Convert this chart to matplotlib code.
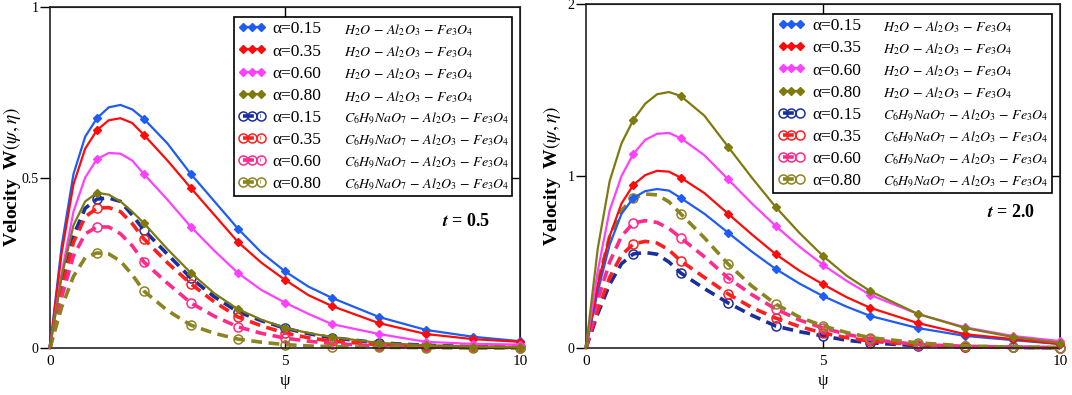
import numpy as np
import matplotlib
matplotlib.use('Agg')
import matplotlib.pyplot as plt
from matplotlib.patches import Rectangle

plt.rcParams['font.family'] = ['Liberation Serif', 'DejaVu Serif']
plt.rcParams['mathtext.fontset'] = 'stix'

psi = [0, 0.25, 0.5, 0.75, 1, 1.25, 1.5, 1.75, 2, 2.5, 3, 3.5, 4, 4.5, 5, 5.5, 6, 7, 8, 9, 10]

alphas = ['0.15', '0.35', '0.60', '0.80']
fluid_h2o = r'$H_2O\,-\,Al_2O_3\,-\,Fe_3O_4$'
fluid_c6 = r'$C_6H_9NaO_7\,-\,Al_2O_3\,-\,Fe_3O_4$'

# t = 0.5, H2O based
h2o_a015_t05 = [0, .30, .51, .62, .674, .706, .713, .70, .672, .60, .51, .43, .35, .28, .225, .18, .147, .091, .053, .033, .02]
h2o_a035_t05 = [0, .28, .48, .585, .639, .668, .674, .66, .625, .55, .469, .39, .311, .25, .2, .155, .123, .073, .041, .026, .018]
h2o_a060_t05 = [0, .22, .40, .50, .554, .572, .57, .55, .51, .435, .355, .285, .22, .17, .133, .10, .07, .041, .018, .012, .01]
h2o_a080_t05 = [0, .21, .36, .43, .455, .45, .43, .40, .366, .29, .22, .16, .114, .083, .059, .044, .032, .015, .008, .004, .002]
# t = 0.5, C6H9NaO7 based
c6_a015_t05 = [0, .19, .33, .41, .437, .44, .43, .39, .346, .275, .205, .15, .106, .08, .058, .042, .03, .015, .008, .004, .002]
c6_a035_t05 = [0, .17, .31, .385, .41, .412, .40, .365, .32, .25, .188, .135, .091, .065, .044, .03, .02, .01, .005, .003, .002]
c6_a060_t05 = [0, .15, .27, .335, .355, .355, .335, .30, .252, .19, .132, .093, .062, .043, .029, .02, .013, .006, .003, .002, .001]
c6_a080_t05 = [0, .12, .21, .265, .279, .276, .255, .215, .167, .11, .067, .043, .026, .017, .01, .006, .004, .002, .001, 0, 0]

# t = 2.0, H2O based
h2o_a015_t20 = [0, .33, .60, .78, .872, .912, .924, .915, .872, .78, .67, .56, .46, .375, .302, .24, .186, .116, .07, .046, .023]
h2o_a035_t20 = [0, .37, .65, .84, .948, 1.005, 1.03, 1.025, .99, .90, .78, .66, .546, .45, .37, .295, .233, .145, .08, .052, .023]
h2o_a060_t20 = [0, .45, .80, 1.0, 1.128, 1.21, 1.245, 1.25, 1.22, 1.12, .98, .84, .71, .59, .483, .39, .308, .198, .12, .07, .04]
h2o_a080_t20 = [0, .58, .97, 1.19, 1.326, 1.42, 1.475, 1.488, 1.465, 1.35, 1.169, .99, .82, .67, .535, .42, .33, .198, .116, .064, .029]
# t = 2.0, C6H9NaO7 based
c6_a015_t20 = [0, .20, .37, .49, .547, .555, .545, .50, .436, .345, .262, .19, .128, .095, .07, .045, .03, .013, .006, .003, .001]
c6_a035_t20 = [0, .22, .41, .54, .605, .62, .61, .57, .506, .41, .314, .235, .174, .125, .087, .06, .04, .018, .008, .004, .002]
c6_a060_t20 = [0, .28, .50, .65, .727, .74, .73, .695, .64, .53, .407, .31, .227, .163, .116, .08, .05, .02, .01, .005, .002]
c6_a080_t20 = [0, .38, .65, .80, .872, .895, .89, .85, .78, .64, .488, .36, .256, .18, .128, .09, .06, .03, .012, .005, .002]

solid_colors = ['#1f5cf5', '#ff0a0a', '#ff40ff', '#7f7a0e']
dash_colors = ['#1a2f9e', '#ff1f1f', '#ff2a8a', '#8c8420']

psi_arr = np.array(psi)
marks = [i for i, v in enumerate(psi) if v > 0 and v == int(v)]

fig = plt.figure(figsize=(10.72, 3.95), dpi=100)
ax1 = fig.add_axes([0.0466, 0.119, 0.4384, 0.863])
ax2 = fig.add_axes([0.5466, 0.119, 0.4422, 0.871])

panels = [
    (ax1, [h2o_a015_t05, h2o_a035_t05, h2o_a060_t05, h2o_a080_t05],
     [c6_a015_t05, c6_a035_t05, c6_a060_t05, c6_a080_t05], 1, [0, 0.5, 1], ['0', '0.5', '1'],
     (8.35, 0.37), '0.5', 0.391, -0.057),
    (ax2, [h2o_a015_t20, h2o_a035_t20, h2o_a060_t20, h2o_a080_t20],
     [c6_a015_t20, c6_a035_t20, c6_a060_t20, c6_a080_t20], 2, [0, 1, 2], ['0', '1', '2'],
     (8.45, 0.79), '2.0', 0.395, -0.049),
]

legends = []
for ax, solids, dashes, ymax, yt, ytl, tpos, tval, legx, labx in panels:
    handles = []
    labels = []
    formulas = []
    for i in range(4):
        h, = ax.plot(psi_arr, solids[i], color=solid_colors[i], lw=1.6, marker='D', ms=4.5,
                     markevery=marks, clip_on=False, zorder=3)
        handles.append(h)
        labels.append('α=' + alphas[i])
        formulas.append(fluid_h2o)
    for i in range(4):
        h, = ax.plot(psi_arr, dashes[i], color=dash_colors[i], lw=2.6, ls=(0, (3.0, 1.8)),
                     marker='o', ms=6.5, mfc='none', mew=1.1, markevery=marks, clip_on=False, zorder=2)
        handles.append(h)
        labels.append('α=' + alphas[i])
        formulas.append(fluid_c6)

    ax.set_xlim(0, 10)
    ax.set_ylim(0, ymax)
    ax.set_xticks([0, 5, 10])
    ax.set_xticklabels(['0', '5', '10'])
    ax.set_yticks(yt)
    ax.set_yticklabels(ytl)
    ax.tick_params(axis='y', direction='out', length=7, width=1, labelsize=10, pad=1)
    ax.tick_params(axis='x', direction='in', length=6, width=1, labelsize=11, pad=5)
    for s in ax.spines.values():
        s.set_linewidth(1.2)
        s.set_color('#222222')

    top = ax.secondary_xaxis('top')
    top.set_xticks([5])
    top.set_xticklabels([])
    top.tick_params(direction='in', length=7, width=1)
    right = ax.secondary_yaxis('right')
    right.set_yticks([yt[1]])
    right.set_yticklabels([])
    right.tick_params(direction='in', length=7, width=1)

    ax.set_xlabel('ψ', fontsize=12, labelpad=4)
    ax.set_ylabel('Velocity  W' + r'$(\psi, \eta)$', fontsize=14, fontweight='bold')
    ax.yaxis.set_label_coords(labx, 0.5)

    ax.text(tpos[0], tpos[1], r'$\mathbfit{t}$' + ' = ' + tval, fontsize=13, fontweight='bold',
            ha='left', va='center')

    leg = ax.legend(handles, labels, loc='upper left', bbox_to_anchor=(legx, 0.971),
                    fontsize=12.5, numpoints=3, handlelength=1.6, handletextpad=0.4,
                    labelspacing=0.34, borderpad=0.25, frameon=False, borderaxespad=0)
    leg.set_zorder(6)
    legends.append((ax, leg, formulas))

# formulas go to the right of the alpha labels, then one frame round both
fig.canvas.draw()
renderer = fig.canvas.get_renderer()
inv = fig.transFigure.inverted()
for ax, leg, formulas in legends:
    texts = []
    for t, f in zip(leg.get_texts(), formulas):
        bb = t.get_window_extent(renderer)
        x, y = inv.transform((bb.x1 + 22, (bb.y0 + bb.y1) / 2 - 1))
        texts.append(ax.text(x, y, f, fontsize=10, ha='left', va='center', zorder=7,
                             transform=fig.transFigure, clip_on=False))
    fig.canvas.draw()
    lb = leg.get_window_extent(renderer)
    x1 = max(t.get_window_extent(renderer).x1 for t in texts) + 3
    (fx0, fy0), (fx1, fy1) = inv.transform([(lb.x0, lb.y0), (x1, lb.y1)])
    ax.add_patch(Rectangle((fx0, fy0), fx1 - fx0, fy1 - fy0, transform=fig.transFigure,
                           facecolor='white', edgecolor='black', lw=1.2, zorder=5, clip_on=False))

fig.savefig('out.png', dpi=100)
